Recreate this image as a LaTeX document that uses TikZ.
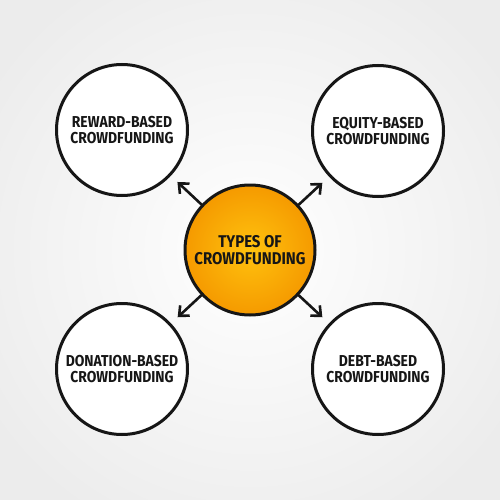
\documentclass[tikz,border=0pt]{standalone}
\usepackage{fontspec}
\setmainfont{Fira Sans}[FakeStretch=0.88]
\usetikzlibrary{arrows.meta}
\definecolor{ink}{HTML}{161616}
\definecolor{bgedge}{HTML}{ECECEC}
\definecolor{orin}{HTML}{FFC20E}
\definecolor{orout}{HTML}{F59A00}
\tikzset{
  outer/.style={circle, draw=ink, line width=3pt, fill=white, minimum size=131pt, inner sep=0pt,
    align=center, font=\fontsize{15.8}{16.5}\selectfont\bfseries, text=ink},
  hub/.style={circle, draw=ink, line width=3pt, inner color=orin, outer color=orout, minimum size=130pt,
    inner sep=0pt, align=center, font=\fontsize{17}{17.5}\selectfont\bfseries, text=ink},
  arr/.style={draw=ink, line width=2.6pt, line cap=round, -{Straight Barb[length=8pt, width=14pt, line width=2.6pt]},
    shorten >=9pt}
}
\begin{document}
\begin{tikzpicture}[x=1pt, y=-1pt]
  \useasboundingbox (0,0) rectangle (500,500);
  \shade[inner color=white, outer color=bgedge] (-60,-60) rectangle (560,560);
  \node[outer] (tl) at (122,130) {REWARD-BASED\\CROWDFUNDING};
  \node[outer] (tr) at (378,131) {EQUITY-BASED\\CROWDFUNDING};
  \node[outer] (bl) at (122,369) {DONATION-BASED\\CROWDFUNDING};
  \node[outer] (br) at (378,369) {DEBT-BASED\\CROWDFUNDING};
  \node[hub] (c) at (250,250) {TYPES OF\\CROWDFUNDING};
  \draw[arr] (c) -- (tl);
  \draw[arr] (c) -- (tr);
  \draw[arr] (c) -- (bl);
  \draw[arr] (c) -- (br);
\end{tikzpicture}
\end{document}
